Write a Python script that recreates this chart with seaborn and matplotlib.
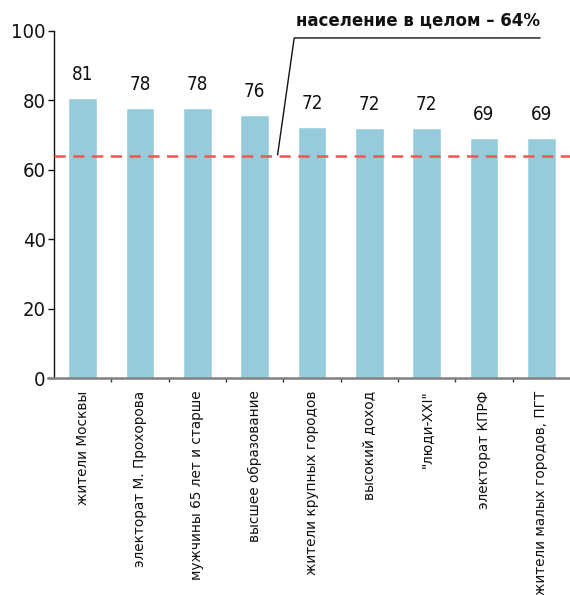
import numpy as np
import pandas as pd
import seaborn as sns
import matplotlib
matplotlib.use("Agg")
from matplotlib import pyplot as plt
from matplotlib.ticker import FixedLocator

# Data
categories = [
    "жители Москвы",
    "электорат М. Прохорова",
    "мужчины 65 лет и старше",
    "высшее образование",
    "жители крупных городов",
    "высокий доход",
    "\"люди-XXI\"",
    "электорат КПРФ",
    "жители малых городов, ПГТ",
]
values = [80.6, 77.8, 77.8, 75.8, 72.3, 72.0, 72.0, 69.2, 69.2]
value_labels = ["81", "78", "78", "76", "72", "72", "72", "69", "69"]
population_level = 64
annotation_text = "население в целом – 64%"

sns.set_theme(style="white")
plt.rcParams["font.family"] = ["DejaVu Sans"]

df = pd.DataFrame({"group": categories, "share": values})

fig = plt.figure(figsize=(5.7, 5.95), dpi=100)
ax = fig.add_axes([0.0947, 0.3647, 0.9053, 0.5832])

sns.barplot(data=df, x="group", y="share", color="#96cbdc", saturation=1,
            width=0.5, ax=ax)

# bar value labels
for i, (v, lab) in enumerate(zip(values, value_labels)):
    ax.text(i, v + 4, lab, ha="center", va="bottom", fontsize=13.5,
            fontstretch="condensed", color="#111111")

# whole-population reference line
ax.axhline(population_level, color="#f0564e", lw=1.8, ls=(0, (4.5, 3)), zorder=3)

# callout line and label
ax.plot([3.40, 3.69, 7.98], [64.3, 98.0, 98.0], color="#111111", lw=1,
        clip_on=False, zorder=4)
ax.text(3.72, 100.4, annotation_text, ha="left", va="bottom", fontsize=13.3,
        fontweight="bold", fontstretch="condensed", color="#111111", clip_on=False)

ax.set_xlim(-0.5, len(categories) - 0.5)
ax.set_ylim(0, 100)
ax.set_yticks([0, 20, 40, 60, 80, 100])
ax.tick_params(axis="y", labelsize=14.5, length=4, width=1, color="#111111",
               labelcolor="#111111", direction="out", left=True, pad=2)
for t in ax.get_yticklabels():
    t.set_fontstretch("condensed")
ax.set_xlabel("")
ax.set_ylabel("")

ax.set_xticks(range(len(categories)))
ax.set_xticklabels(categories, rotation=90, fontsize=9.8, color="#111111")
ax.tick_params(axis="x", which="major", length=0, pad=9)
ax.xaxis.set_minor_locator(FixedLocator(np.arange(0.5, len(categories) - 0.5, 1)))
ax.tick_params(axis="x", which="minor", bottom=True, length=3, width=1,
               color="#333333", direction="out")

for side in ["top", "right"]:
    ax.spines[side].set_visible(False)
ax.spines["left"].set_color("#111111")
ax.spines["left"].set_linewidth(1)
ax.spines["bottom"].set_color("#808080")
ax.spines["bottom"].set_linewidth(1.8)
ax.spines["bottom"].set_bounds(-0.6, len(categories) - 0.5)
ax.spines["bottom"].set_zorder(5)

fig.savefig("out.png", dpi=100)
